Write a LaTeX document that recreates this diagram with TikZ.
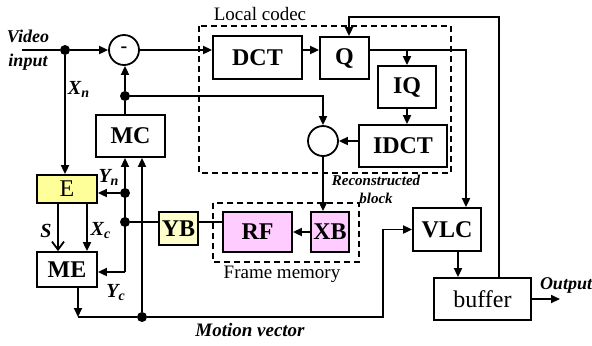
\documentclass[tikz,border=0pt]{standalone}
\usepackage{fontspec}
\setmainfont{Liberation Serif}
\usepackage{tikz}
\usetikzlibrary{arrows.meta,positioning,calc}
\definecolor{CodecYellow}{HTML}{FFFF99}
\definecolor{CodecCream}{HTML}{FFFFCC}
\definecolor{CodecPink}{HTML}{FFCCFF}
\tikzset{
  unit/.style={draw,line width=0.9pt,fill=white,inner sep=0pt,
    font=\fontsize{12}{14}\selectfont\bfseries},
  plain/.style={unit,font=\fontsize{12}{14}\selectfont},
  sum/.style={draw,circle,line width=0.9pt,minimum size=15pt,inner sep=0pt,
    font=\fontsize{10}{12}\selectfont\bfseries},
  dot/.style={circle,fill,inner sep=0pt,minimum size=5pt},
  group/.style={draw,dashed,line width=0.7pt,dash pattern=on 3pt off 2pt},
  lab/.style={font=\fontsize{9}{12}\selectfont\bfseries\itshape,align=center,inner sep=0pt},
  var/.style={font=\fontsize{10}{12}\selectfont\bfseries\itshape,inner sep=0pt},
  note/.style={font=\fontsize{9.5}{11}\selectfont,inner sep=0pt},
  wire/.style={line width=0.9pt},
  flow/.style={-{Triangle[length=4.5pt,width=4pt]},line width=0.9pt},
  open/.style={-{Straight Barb[length=4pt,width=6pt]},line width=0.9pt}
}

\begin{document}
\begin{tikzpicture}[x=0.5pt,y=-0.5pt]
  \useasboundingbox (0,0) rectangle (592,345);
  % local codec
  \draw[group] (199,26) rectangle (451,173);
  \node[note] (codec) at (260,14) {Local codec};
  \node[unit,minimum width=44.5pt,minimum height=21.5pt] (dct) at (257.5,57.5) {DCT};
  \node[unit,minimum width=24.5pt,minimum height=21pt] (q) at (344.5,58) {Q};
  \node[unit,minimum width=29pt,minimum height=21pt] (iq) at (407,87) {IQ};
  \node[unit,minimum width=44pt,minimum height=21pt] (idct) at (403,146) {IDCT};
  \node[sum] (adder) at (323,141) {};
  \node[sum] (minus) at (124,50) {-};
  % frame memory
  \draw[group] (213,203) rectangle (359,262);
  \node[note] (fmem) at (282,274) {Frame memory};
  \node[unit,fill=CodecPink,minimum width=34.5pt,minimum height=20pt] (rf) at (257.5,232) {RF};
  \node[unit,fill=CodecPink,minimum width=19pt,minimum height=20pt] (xb) at (330,232) {XB};
  \node[unit,fill=CodecCream,minimum width=19.5pt,minimum height=16.5pt] (yb) at (178.5,228.5) {YB};
  % estimation and coding
  \node[unit,minimum width=34.5pt,minimum height=21pt] (mc) at (130.5,136) {MC};
  \node[plain,fill=CodecYellow,minimum width=30pt,minimum height=14pt] (e) at (67,189) {E};
  \node[unit,minimum width=30pt,minimum height=17.5pt] (me) at (67,269.5) {ME};
  \node[unit,minimum width=34pt,minimum height=21.5pt] (vlc) at (447,229.5) {VLC};
  \node[plain,minimum width=48.5pt,minimum height=21pt] (buffer) at (482.5,299) {buffer};

  % input and difference
  \coordinate (vin) at (22,50);
  \node[dot] (xdot) at (65,50) {};
  \node[lab] (vlabel) at (28,50) {Video\\input};
  \draw[wire] (vin) -- (xdot);
  \draw[flow] (xdot) -- (minus);
  \draw[flow] (xdot) -- (xdot |- e.north);
  \node[var] (xn) at (79,89) {X\textsubscript{n}};
  \draw[flow] (minus) -- (minus -| dct.west);
  \draw[flow] (minus -| dct.east) -- (minus -| q.west);

  % quantiser output
  \coordinate (qturn) at (466,50);
  \draw[flow] (minus -| q.east) -- (qturn) -- (qturn |- vlc.north);
  \draw[flow] (iq.north |- qturn) -- (iq.north);
  \draw[flow] (iq.south) -- (iq.south |- idct.north);
  \draw[flow] (idct.west |- adder) -- (adder);
  \draw[flow] (adder) -- (adder |- xb.north);
  \node[lab,font=\fontsize{7.5}{9}\selectfont\bfseries\itshape] (recon) at (376,189) {Reconstructed\\block};
  \draw[flow] (xb) -- (rf);

  % prediction
  \node[dot] (mdot) at (125,96) {};
  \draw[wire] (mc.north -| mdot) -- (mdot);
  \draw[flow] (mdot) -- (mdot |- minus.south);
  \draw[flow] (mdot) -- (mdot -| adder) -- (adder);
  \node[dot] (ydot) at (125,222) {};
  \node[dot] (ndot) at (125,193) {};
  \draw[wire] (ydot) -- (ydot -| yb.west);
  \draw[wire] (ydot -| yb.east) -- (ydot -| rf.west);
  \coordinate (ycorner) at (125,272);
  \draw[flow] (ycorner) -- (ycorner |- mc.south);
  \draw[flow] (ycorner) -- (ycorner -| me.east);
  \draw[flow] (ndot) -- (ndot -| e.east);
  \node[var] (yn) at (109,177) {Y\textsubscript{n}};
  \node[var] (yc) at (116,293) {Y\textsubscript{c}};

  % estimator to ME
  \draw[open] ([xshift=-4.5pt]e.south) -- ([xshift=-4.5pt]me.north);
  \draw[flow] ([xshift=10pt]e.south) -- ([xshift=10pt]me.north);
  \node[var] (s) at (46,231) {S};
  \node[var] (xc) at (101,231) {X\textsubscript{c}};

  % motion vector
  \coordinate (mvL) at (78,317);
  \coordinate (mvR) at (383,317);
  \node[dot] (mvdot) at (142,317) {};
  \draw[flow] (me.south -| mvL) -- (mvL);
  \draw[wire] (mvL) -- (mvdot);
  \draw[flow] (mvdot) -- (mvR) -- (mvR |- vlc) -- (vlc);
  \draw[flow] (mvdot) -- (mvdot |- mc.south);
  \node[lab,font=\fontsize{9.5}{11}\selectfont\bfseries\itshape] (mvlabel) at (250,330) {Motion vector};

  % coder output and rate feedback
  \coordinate (vb) at ([xshift=5.5pt]vlc.south);
  \draw[flow] (vb) -- (vb |- buffer.north);
  \coordinate (out) at (560,299);
  \draw[flow] (buffer) -- (out);
  \node[lab] (olabel) at (566,285) {Output};
  \coordinate (fbB) at ([xshift=8.25pt]buffer.north);
  \coordinate (fbQ) at ([xshift=2.25pt]q.north);
  \draw[flow] (fbB) -- (fbB |- 0,17) -| (fbQ);
\end{tikzpicture}
\end{document}
